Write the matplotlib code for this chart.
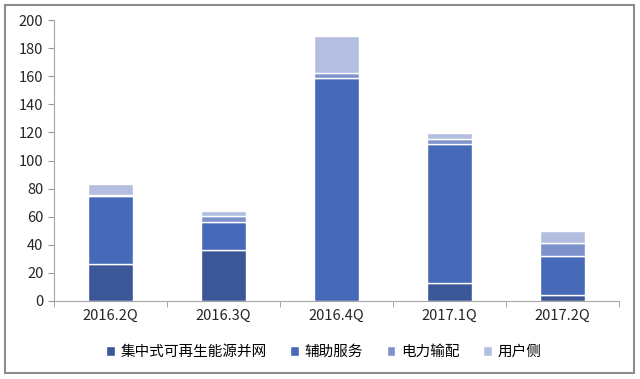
import numpy as np
import matplotlib.pyplot as plt
from matplotlib.patches import Rectangle

plt.rcParams['font.family'] = ['Noto Sans CJK SC', 'DejaVu Sans']

# 数据
quarters = ["2016.2Q", "2016.3Q", "2016.4Q", "2017.1Q", "2017.2Q"]
jizhong = [26, 36, 0, 13, 4.5]      # 集中式可再生能源并网
fuzhu = [49, 20.5, 159, 99, 27.5]   # 辅助服务
dianli = [0.5, 4, 3.5, 3.5, 9.5]    # 电力输配
yonghu = [8, 3.5, 26.5, 4, 8]       # 用户侧

names = ["集中式可再生能源并网", "辅助服务", "电力输配", "用户侧"]
colors = ["#3B5797", "#4669B8", "#7D91CB", "#B4BEE0"]

fig = plt.figure(figsize=(6.4, 3.79), dpi=100)
ax = fig.add_axes([0.084, 0.206, 0.883, 0.741])

x = np.arange(len(quarters))
bottom = np.zeros(len(quarters))
for vals, name, c in zip([jizhong, fuzhu, dianli, yonghu], names, colors):
    ax.bar(x, vals, 0.4, bottom=bottom, color=c, label=name,
           edgecolor="white", linewidth=1.0)
    bottom += np.array(vals)

ax.set_xlim(-0.5, len(quarters) - 0.5)
ax.set_ylim(0, 200)
ax.set_yticks(np.arange(0, 201, 20))
ax.set_xticks(x)
ax.set_xticklabels(quarters)
ax.set_xticks(np.arange(-0.5, len(quarters), 1), minor=True)
ax.tick_params(axis="x", which="major", length=0, labelsize=10.5, pad=6, colors="#262626")
ax.tick_params(axis="x", which="minor", length=4, color="#999999")
ax.tick_params(axis="y", length=4, color="#999999", labelsize=10.5, labelcolor="#262626")

for s in ["top", "right"]:
    ax.spines[s].set_visible(False)
for s in ["left", "bottom"]:
    ax.spines[s].set_color("#a6a6a6")

ax.legend(loc="center", bbox_to_anchor=(0.506, 0.071), bbox_transform=fig.transFigure,
          ncol=4, frameon=False, fontsize=10.5, handlelength=0.6, handleheight=0.6,
          handletextpad=0.4, columnspacing=1.6)

# 外框
fig.patches.append(Rectangle((0.008, 0.015), 0.983, 0.972, transform=fig.transFigure,
                             fill=False, edgecolor="#8c8c8c", linewidth=1.5))

fig.savefig("out.png", dpi=100)
